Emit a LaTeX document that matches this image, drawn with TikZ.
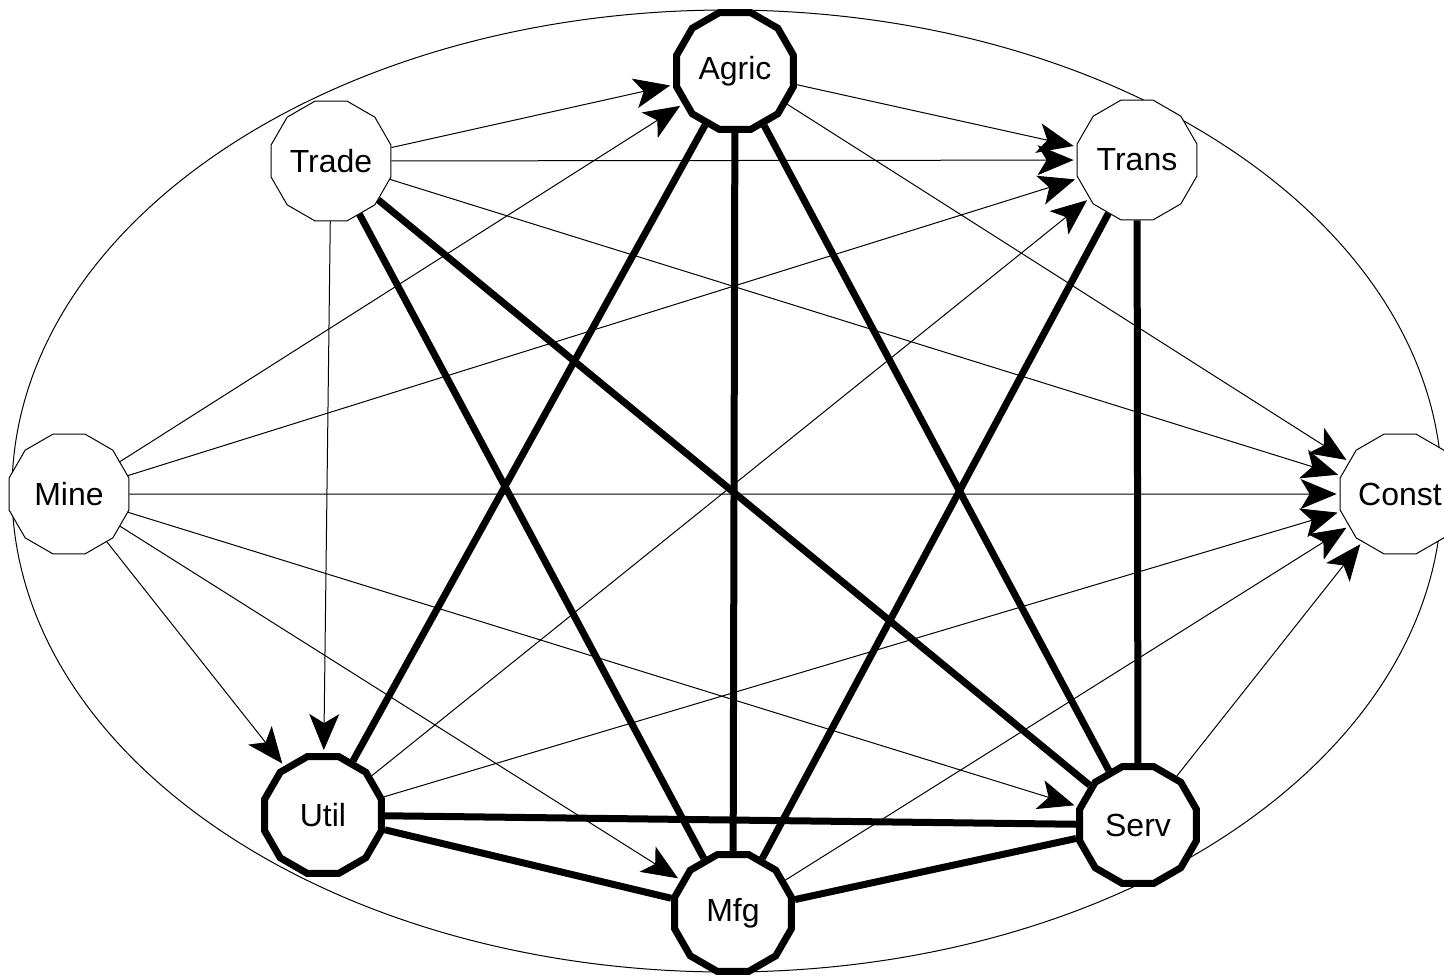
\documentclass[tikz,border=0pt]{standalone}
\usepackage{fontspec}
\setmainfont{Liberation Sans}
\usetikzlibrary{shapes.geometric,arrows.meta}

\begin{document}
\begin{tikzpicture}[x=0.5pt, y=-0.5pt,
  sec/.style={draw, regular polygon, regular polygon sides=12, minimum size=62pt,
              inner sep=0pt, fill=white, line width=0.5pt,
              font=\fontsize{16}{19}\selectfont},
  core/.style={sec, line width=3.5pt, minimum size=60.5pt},
  flow/.style={-{Stealth[length=18pt, width=15pt, inset=4.5pt]}, line width=0.5pt,
               shorten >=1.5pt},
  tie/.style={line width=3.5pt}]
\useasboundingbox (0,0) rectangle (1444,976);
% outer ring
\draw[line width=0.5pt] (727,491) ellipse [x radius=357.5pt, y radius=240.5pt];
% sectors
\node[core] (agric) at (735,71) {Agric};
\node[sec] (trade) at (331,161) {Trade};
\node[sec] (trans) at (1137,160) {Trans};
\node[sec] (mine) at (69,494) {Mine};
\node[sec] (const) at (1400,494) {Const};
\node[core] (util) at (323,815) {Util};
\node[core] (serv) at (1138,825) {Serv};
\node[core] (mfg) at (733,913) {Mfg};
% two-way links
\draw[tie] (agric) -- (util);
\draw[tie] (agric) -- (mfg);
\draw[tie] (agric) -- (serv);
\draw[tie] (trade) -- (mfg);
\draw[tie] (trade) -- (serv);
\draw[tie] (trans) -- (mfg);
\draw[tie] (trans) -- (serv);
\draw[tie] (util) -- (mfg);
\draw[tie] (util) -- (serv);
\draw[tie] (mfg) -- (serv);
% one-way links
\foreach \src/\dst in {trade/agric, mine/agric,
                       agric/trans, trade/trans, mine/trans, util/trans,
                       agric/const, trade/const, mine/const, util/const, mfg/const, serv/const,
                       trade/util, mine/util, mine/mfg, mine/serv}
  \draw[flow] (\src) -- (\dst);
\end{tikzpicture}
\end{document}
